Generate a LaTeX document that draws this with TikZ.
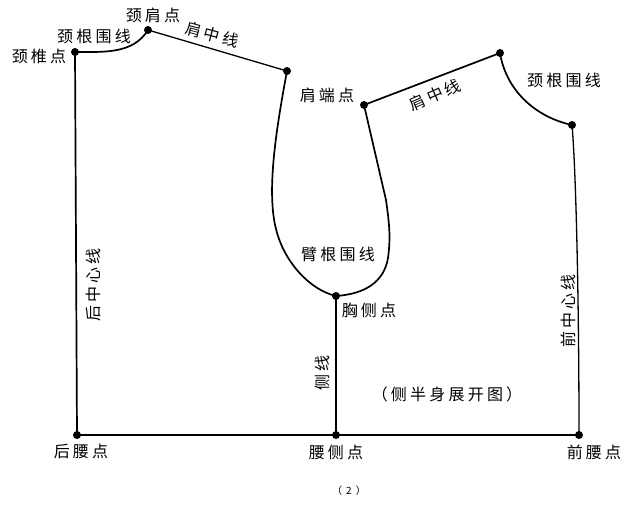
\documentclass[tikz,border=0pt]{standalone}
\usepackage{fontspec}
\newfontfamily\cjk[LetterSpace=20]{Noto Sans CJK SC}
\newfontfamily\cjkplain{Noto Sans CJK SC}
\tikzset{
  x=1pt,y=-1pt,
  pt/.style={circle,fill=black,inner sep=0pt,minimum size=8pt},
  lab/.style={inner sep=0pt,font=\fontsize{16}{18}\cjk},
  seam/.style={draw=black,line width=1.7pt,line join=round},
  thin seam/.style={draw=black,line width=1.3pt}
}
\begin{document}
\begin{tikzpicture}
\useasboundingbox (0,0) rectangle (625,505);
\node[pt] (nb) at (75,52) {};
\node[pt] (ns) at (148,30) {};
\node[pt] (se) at (287,71) {};
\node[pt] (fe) at (364,105) {};
\node[pt] (fs) at (500,53) {};
\node[pt] (fn) at (572,125) {};
\node[pt] (fw) at (579,435) {};
\node[pt] (sw) at (336,435) {};
\node[pt] (bw) at (77,435) {};
\node[pt] (cs) at (336,296) {};
\draw[seam] (nb.center) -- (bw.center);
\draw[seam] (nb.center) .. controls (105,52) and (133,54) .. (ns.center);
\draw[thin seam] (ns.center) -- (se.center);
\draw[seam] (se.center) .. controls (277,125) and (266,190) .. (276,229)
  .. controls (284,262) and (310,290) .. (cs.center);
\draw[seam] (cs.center) .. controls (365,294) and (384,282) .. (388,258)
  .. controls (391,236) and (389,222) .. (386,200) -- (fe.center);
\draw[seam] (fe.center) -- (fs.center);
\draw[seam] (fs.center) .. controls (506,90) and (535,117) .. (fn.center);
\draw[thin seam] (fn.center) .. controls (576,170) and (579,300) .. (fw.center);
\draw[seam] (bw.center) -- (sw.center);
\draw[thin seam] (sw.center) -- (fw.center);
\draw[seam] (sw.center) -- (cs.center);
\node[lab] (a1) at (39,56) {颈椎点};
\node[lab] (a2) at (94,36) {颈根围线};
\node[lab] (a3) at (153,15) {颈肩点};
\node[lab,rotate=-15] (a4) at (212,35) {肩中线};
\node[lab] (a5) at (327,95) {肩端点};
\node[lab,rotate=24] (a6) at (435,95) {肩中线};
\node[lab] (a7) at (564,80) {颈根围线};
\node[lab] (a8) at (338,254) {臂根围线};
\node[lab] (a9) at (369,310) {胸侧点};
\node[lab,rotate=90] (a10) at (93,285) {后中心线};
\node[lab,rotate=90] (a11) at (568,311) {前中心线};
\node[lab,rotate=90] (a12) at (322,373) {侧线};
\node[lab] (a13) at (447,394) {（侧半身展开图）};
\node[lab] (a14) at (81,451) {后腰点};
\node[lab] (a15) at (336,452) {腰侧点};
\node[lab] (a16) at (594,452) {前腰点};
\node[inner sep=0pt,font=\fontsize{10}{12}\cjkplain] (a17) at (349,491) {（\hspace{4pt}2\hspace{4pt}）};
\end{tikzpicture}
\end{document}
